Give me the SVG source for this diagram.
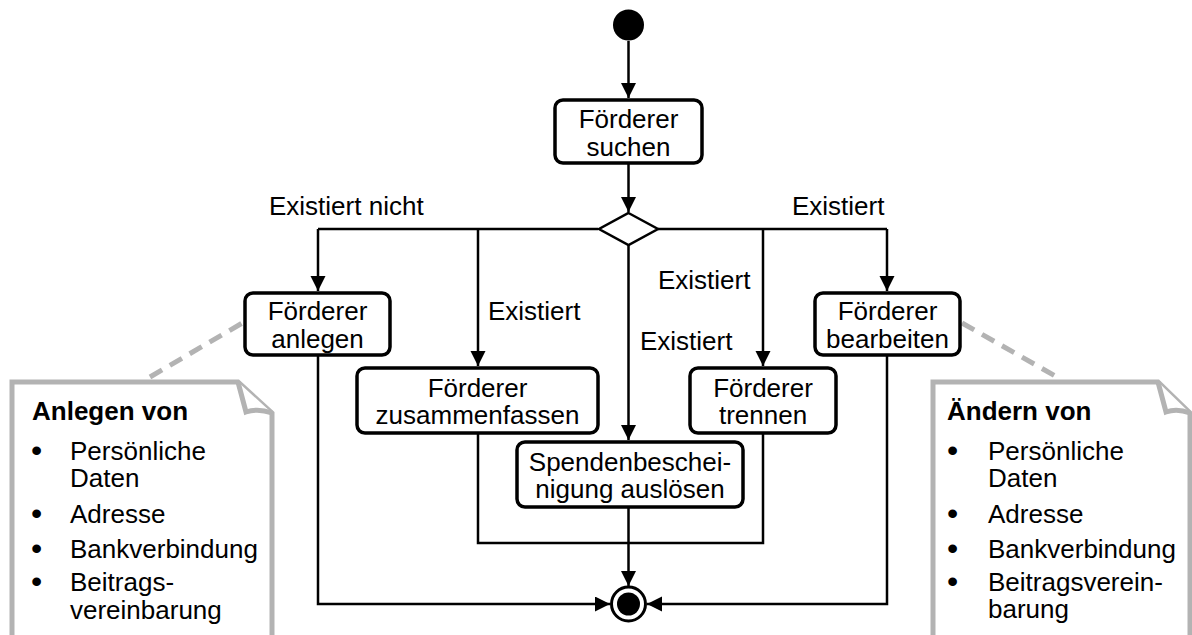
<svg xmlns="http://www.w3.org/2000/svg" width="1192" height="635" viewBox="0 0 1192 635">
<defs>
<marker id="arr" markerUnits="userSpaceOnUse" markerWidth="16" markerHeight="16" refX="15" refY="7.5" orient="auto">
<path d="M0,0 L15,7.5 L0,15 z" fill="#000"/>
</marker>
<style>
text{font-family:"Liberation Sans",Arial,sans-serif;font-size:26px;fill:#000}
.b{font-weight:bold}
.m{text-anchor:middle}
.bul{font-size:32px}
.box{fill:#fff;stroke:#000;stroke-width:3.5}
.con{fill:none;stroke:#000;stroke-width:2.5}
.arr{marker-end:url(#arr)}
.note{fill:#fff;stroke:#b3b3b3;stroke-width:5;stroke-linejoin:miter}
.dash{fill:none;stroke:#b3b3b3;stroke-width:5;stroke-dasharray:14 9}
</style>
</defs>
<rect width="1192" height="635" fill="#fff"/>

<g id="connectors">
<path class="con arr" d="M628.5,41 V98"/>
<path class="con arr" d="M628.5,163 V212"/>
<path class="con" d="M598,229 H318"/>
<path class="con" d="M658,229 H887"/>
<path class="con arr" d="M318,229 V291"/>
<path class="con arr" d="M478,229 V366"/>
<path class="con arr" d="M628.5,245 V440"/>
<path class="con arr" d="M763,229 V366"/>
<path class="con arr" d="M887,229 V291"/>
<path class="con" d="M478,433 V543 H763 V433"/>
<path class="con arr" d="M628.5,507 V586"/>
<path class="con arr" d="M318,355 V604 H610"/>
<path class="con arr" d="M887,355 V604 H647"/>
<path class="dash" d="M150,377 L244,322"/>
<path class="dash" d="M962,323 L1057,377"/>
</g>

<g id="labels">
<text x="269" y="215">Existiert nicht</text>
<text x="792" y="215">Existiert</text>
<text x="488" y="320">Existiert</text>
<text x="658" y="289">Existiert</text>
<text x="640" y="350">Existiert</text>
</g>

<g id="start"><circle cx="628.5" cy="25" r="15.5" fill="#000"/></g>

<g id="suchen">
<rect class="box" x="555" y="100" width="147" height="63" rx="8"/>
<text class="m" x="628.5" y="128">Förderer</text>
<text class="m" x="628.5" y="155.5">suchen</text>
</g>

<g id="decision"><polygon points="628.5,213 658,229 628.5,245 599,229" fill="#fff" stroke="#000" stroke-width="2.5"/></g>

<g id="anlegen">
<rect class="box" x="245" y="293" width="145" height="62" rx="8"/>
<text class="m" x="317.5" y="320">Förderer</text>
<text class="m" x="317.5" y="347.5">anlegen</text>
</g>

<g id="bearbeiten">
<rect class="box" x="815" y="293" width="145" height="62" rx="8"/>
<text class="m" x="887.5" y="320">Förderer</text>
<text class="m" x="887.5" y="347.5">bearbeiten</text>
</g>

<g id="zusammenfassen">
<rect class="box" x="357" y="368" width="241" height="65" rx="8"/>
<text class="m" x="477.5" y="396.5">Förderer</text>
<text class="m" x="477.5" y="424">zusammenfassen</text>
</g>

<g id="trennen">
<rect class="box" x="690" y="368" width="146" height="65" rx="8"/>
<text class="m" x="763" y="396.5">Förderer</text>
<text class="m" x="763" y="424">trennen</text>
</g>

<g id="spenden">
<rect class="box" x="517" y="442" width="226" height="65" rx="8"/>
<text class="m" x="630" y="470.5">Spendenbeschei-</text>
<text class="m" x="630" y="498">nigung auslösen</text>
</g>

<g id="end">
<circle cx="628.5" cy="604" r="17" fill="#fff" stroke="#000" stroke-width="3"/>
<circle cx="628.5" cy="604" r="11.5" fill="#000"/>
</g>

<g id="note-left">
<path class="note" d="M12,645 V382 H238 L272,413 V645"/>
<path class="note" d="M238,382 L246,412 Q258,408 272,413" fill="none"/>
<text class="b" x="32" y="420">Anlegen von</text>
<text class="bul" x="31" y="461">•</text><text x="70" y="460">Persönliche</text>
<text x="70" y="487">Daten</text>
<text class="bul" x="31" y="524">•</text><text x="70" y="523">Adresse</text>
<text class="bul" x="31" y="559">•</text><text x="70" y="558">Bankverbindung</text>
<text class="bul" x="31" y="592">•</text><text x="70" y="591">Beitrags-</text>
<text x="70" y="619">vereinbarung</text>
</g>

<g id="note-right">
<path class="note" d="M933,645 V382 H1158 L1190,413 V645"/>
<path class="note" d="M1158,382 L1166,412 Q1177,408 1190,413" fill="none"/>
<text class="b" x="947" y="420">Ändern von</text>
<text class="bul" x="947" y="461">•</text><text x="988" y="460">Persönliche</text>
<text x="988" y="487">Daten</text>
<text class="bul" x="947" y="524">•</text><text x="988" y="523">Adresse</text>
<text class="bul" x="947" y="559">•</text><text x="988" y="558">Bankverbindung</text>
<text class="bul" x="947" y="592">•</text><text x="988" y="591">Beitragsverein-</text>
<text x="988" y="618">barung</text>
</g>
</svg>
